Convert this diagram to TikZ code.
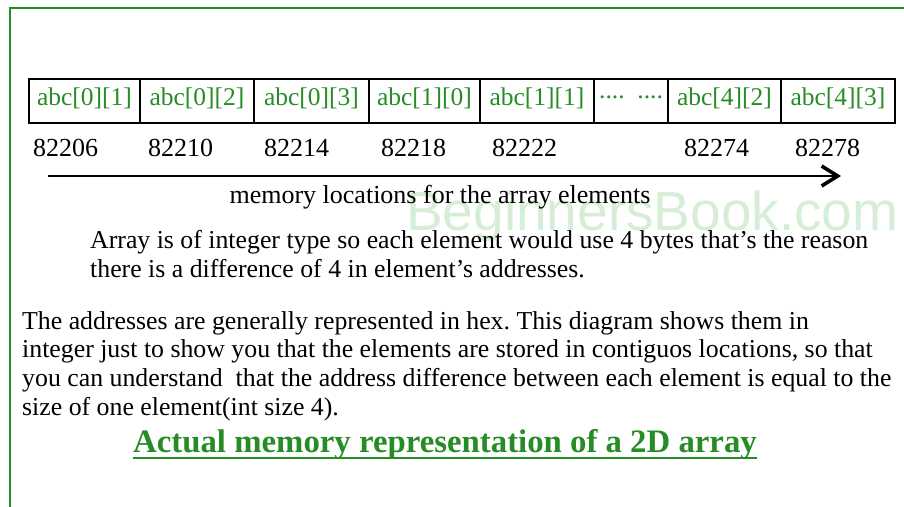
\documentclass[tikz,border=0pt]{standalone}
\usepackage{fontspec}
\setmainfont{Liberation Serif}
\setsansfont{Liberation Sans}
\usepackage{xcolor}
\usepackage{tikz}
\usetikzlibrary{positioning, arrows.meta}
\definecolor{bbgreen}{RGB}{38,140,38}
\definecolor{wmgreen}{RGB}{214,237,214}
\frenchspacing
\tikzstyle{cell} = [rectangle, draw=black, line width=1.6pt, minimum height=44pt, inner sep=0pt, outer sep=0pt, text=bbgreen, font=\fontsize{25.5}{28}\selectfont, text centered, text depth=8pt]
\tikzstyle{addr} = [anchor=west, inner sep=0pt, font=\fontsize{26}{28}\selectfont]
\tikzstyle{para} = [anchor=north west, inner sep=0pt, align=left, font=\fontsize{25.8}{28.7}\selectfont]
\tikzstyle{arrow} = [line width=2.8pt, -{Straight Barb[length=16pt, width=20pt, line width=3.6pt]}]

\begin{document}
\begin{tikzpicture}[x=1pt, y=-1pt]
		\useasboundingbox (0,0) rectangle (904,506);
		%外框
		\draw [bbgreen, line width=2.6pt] (10,520) -- (10,8) -- (920,8);
		%水印
		\node (wm) [anchor=west, inner sep=0pt, text=wmgreen, font=\sffamily\fontsize{55}{58}\selectfont] at (406,216) {BeginnersBook.com};
		
		%数组元素
		\node (c1) [cell, minimum width=111pt, anchor=west] at (29,101) {abc[0][1]};
		\node (c2) [cell, minimum width=114pt, right=0pt of c1] {abc[0][2]};
		\node (c3) [cell, minimum width=115pt, right=0pt of c2] {abc[0][3]};
		\node (c4) [cell, minimum width=111pt, right=0pt of c3] {abc[1][0]};
		\node (c5) [cell, minimum width=114pt, right=0pt of c4] {abc[1][1]};
		\node (c6) [cell, minimum width=74pt, right=0pt of c5] {....\ \ ....};
		\node (c7) [cell, minimum width=113pt, right=0pt of c6] {abc[4][2]};
		\node (c8) [cell, minimum width=114pt, right=0pt of c7] {abc[4][3]};
		
		%地址
		\node (a1) [addr] at (33,148) {82206};
		\node (a2) [addr] at (148,148) {82210};
		\node (a3) [addr] at (264,148) {82214};
		\node (a4) [addr] at (381,148) {82218};
		\node (a5) [addr] at (492,148) {82222};
		\node (a7) [addr] at (684,148) {82274};
		\node (a8) [addr] at (795,148) {82278};
		
		%箭头
		\coordinate (arrS) at (48,176);
		\coordinate (arrE) at (841,176);
		\draw [arrow] (arrS) -- (arrE);
		\node (lbl) [inner sep=0pt, font=\fontsize{26}{28}\selectfont] at (440,197) {memory locations for the array elements};
		
		%说明
		\node (note1) [para] at (90,230) {Array is of integer type so each element would use 4 bytes that's the reason\\there is a difference of 4 in element's addresses.};
		\node (note2) [para] at (22,311) {The addresses are generally represented in hex. This diagram shows them in\\integer just to show you that the elements are stored in contiguos locations, so that\\you can understand\ \ that the address difference between each element is equal to the\\size of one element(int size 4).};
		
		%标题
		\node (title) [inner sep=0pt, text=bbgreen, font=\bfseries\fontsize{32.8}{34}\selectfont] at (445,444) {Actual memory representation of a 2D array};
		\path (title.base west) ++(0,6) coordinate (ulS);
		\path (title.base east) ++(0,6) coordinate (ulE);
		\draw [bbgreen, line width=1.8pt] (ulS) -- (ulE);
		
	\end{tikzpicture}
\end{document}
